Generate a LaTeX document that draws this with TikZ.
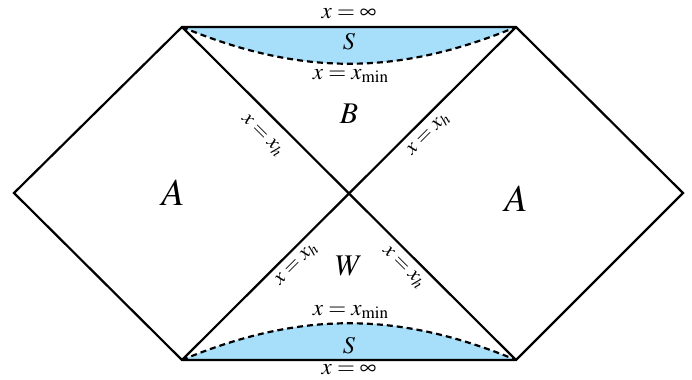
\documentclass[tikz,border=0pt]{standalone}
\usepackage{mathptmx}
\usetikzlibrary{positioning}
\definecolor{skyfill}{RGB}{167,222,250}

\begin{document}
\begin{tikzpicture}[
  x=0.5pt,y=-0.5pt,
  edge/.style={line width=1.1pt},
  horizon/.style={line width=1.1pt,dash pattern=on 3pt off 2pt},
  region/.style={font=\fontsize{19}{19}\selectfont},
  tag/.style={font=\fontsize{11.5}{11.5}\selectfont,inner sep=0.5pt},
  slant/.style={font=\fontsize{10.5}{10.5}\selectfont,inner sep=0.5pt}
]
  \useasboundingbox (0,0) rectangle (692,380);
  % corners of the diagram
  \coordinate (tl) at (182,27);
  \coordinate (tr) at (516,27);
  \coordinate (bl) at (182,360);
  \coordinate (br) at (516,360);
  \coordinate (lft) at (14,193);
  \coordinate (rgt) at (683,193);
  \coordinate (mid) at (349,193);
  % singularities
  \fill[skyfill] (tl) .. controls (300,76) and (398,76) .. (tr) -- cycle;
  \fill[skyfill] (bl) .. controls (300,311) and (398,311) .. (br) -- cycle;
  \draw[horizon] (tl) .. controls (300,76) and (398,76) .. (tr);
  \draw[horizon] (bl) .. controls (300,311) and (398,311) .. (br);
  % outline
  \draw[edge] (tl) -- (tr) -- (rgt) -- (br) -- (bl) -- (lft) -- cycle;
  \draw[edge] (tl) -- (br);
  \draw[edge] (tr) -- (bl);
  % labels
  \node[region] (aleft) at (173,193) {$A$};
  \node[region] (aright) at (516,199) {$A$};
  \node[font=\fontsize{15}{15}\selectfont] (bh) at (349,114) {$B$};
  \node[font=\fontsize{15}{15}\selectfont] (wh) at (349,266) {$W$};
  \node[font=\large] (stop) at (349,42) {$S$};
  \node[font=\large] (sbot) at (349,346) {$S$};
  \node[tag] (inftop) at (349,14) {$x=\infty$};
  \node[tag] (infbot) at (349,370) {$x=\infty$};
  \node[tag] (mintop) at (351,76) {$x=x_{\min}$};
  \node[tag] (minbot) at (351,312) {$x=x_{\min}$};
  \node[slant,rotate=-45] (hl) at (262,136) {$x=x_h$};
  \node[slant,rotate=45] (hr) at (429,135) {$x=x_h$};
  \node[slant,rotate=45] (wl) at (297,265) {$x=x_h$};
  \node[slant,rotate=-45] (wr) at (403,268) {$x=x_h$};
\end{tikzpicture}
\end{document}
